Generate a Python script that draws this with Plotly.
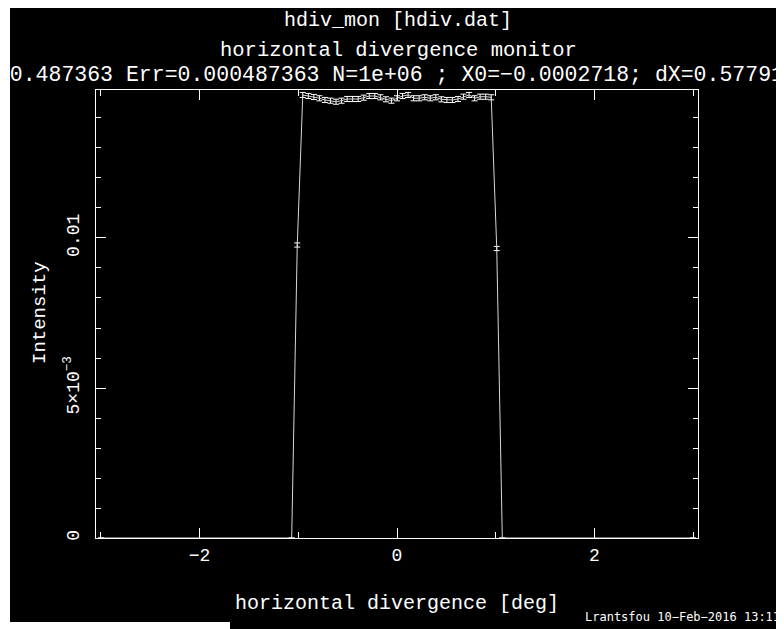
import numpy as np
import plotly.graph_objects as go

# ---------------- data ----------------
edge_left_x = -1.067
edge_right_x = 1.067
n_points = 39  # points between the two zero edges (inclusive)

# plateau intensities (35 bins)
plateau = [0.014767, 0.014733, 0.014700, 0.014657, 0.014600, 0.014577, 0.014543,
           0.014577, 0.014633, 0.014633, 0.014633, 0.014677, 0.014733, 0.014733,
           0.014690, 0.014623, 0.014577, 0.014657, 0.014733, 0.014767, 0.014657,
           0.014657, 0.014690, 0.014657, 0.014690, 0.014623, 0.014600, 0.014600,
           0.014633, 0.014710, 0.014767, 0.014657, 0.014710, 0.014710, 0.014690]
edge_vals = [0.009767, 0.009650]   # left and right shoulder bins
plateau_err = 0.000085
edge_err = 0.000070

x_inner = list(np.round(np.linspace(edge_left_x, edge_right_x, n_points), 4))
y_inner = [0.0, edge_vals[0]] + plateau + [edge_vals[1], 0.0]
e_inner = [0.0, edge_err] + [plateau_err] * len(plateau) + [edge_err, 0.0]

x = [-3.0] + x_inner + [3.0]
y = [0.0] + y_inner + [0.0]
err = [0.0] + e_inner + [0.0]

x_ticks = [-2, 0, 2]
y_tickvals = [0, 0.005, 0.01]
y_ticktext = ["0", "5×10<sup>−3</sup>", "0.01"]

title1 = "hdiv_mon [hdiv.dat]"
title2 = "horizontal divergence monitor"
title3 = "I=0.487363 Err=0.000487363 N=1e+06 ; X0=−0.0002718; dX=0.57791"
xlabel = "horizontal divergence [deg]"
ylabel = "Intensity"
stamp = "Lrantsfou 10−Feb−2016 13:11"

# ---------------- layout geometry ----------------
OFF = 8                      # page body margin
W, H = 784 - OFF, 629 - OFF  # figure size so it fits the window
# plot area in page pixels
PL, PR, PT, PB = 96, 698, 90, 538
L, R, T, B = PL - OFF, PR - OFF, PT - OFF, PB - OFF
pw, ph = R - L, B - T

def px(xp):   # page pixel x -> paper
    return (xp - PL) / pw

def py(yp):   # page pixel y -> paper
    return (PB - yp) / ph

MONO = "Liberation Mono"

fig = go.Figure()
fig.add_trace(go.Scatter(
    x=x, y=y, mode="lines",
    line=dict(color="#d8d8d8", width=1),
    error_y=dict(type="data", array=err, visible=True, color="white",
                 thickness=1, width=3),
    showlegend=False, hoverinfo="skip",
))

axis_common = dict(
    showline=True, linecolor="white", linewidth=1, mirror="ticks",
    ticks="inside", tickcolor="white", ticklen=10, tickwidth=1,
    showgrid=False, zeroline=False,
    tickfont=dict(family=MONO, size=18, color="white"),
)

fig.update_xaxes(range=[-3.05, 3.05], tickmode="array", tickvals=x_ticks,
                 minor=dict(tickmode="linear", tick0=0, dtick=1, ticks="inside",
                            ticklen=6, tickcolor="white"),
                 ticklabelstandoff=0, **axis_common)
fig.update_yaxes(range=[0, 0.014933], tickmode="array", tickvals=y_tickvals,
                 ticktext=y_ticktext, tickangle=-90,
                 minor=dict(tickmode="linear", tick0=0, dtick=0.001, ticks="inside",
                            ticklen=5, tickcolor="white"),
                 ticklabelstandoff=9, **axis_common)

ann = []
ann.append(dict(x=px(398), y=py(20), xref="paper", yref="paper", text=title1,
                showarrow=False, xanchor="center", yanchor="middle",
                font=dict(family=MONO, size=20, color="white")))
ann.append(dict(x=px(398), y=py(50), xref="paper", yref="paper", text=title2,
                showarrow=False, xanchor="center", yanchor="middle",
                font=dict(family=MONO, size=20.5, color="white")))
ann.append(dict(x=px(786), y=py(75), xref="paper", yref="paper", text=title3,
                showarrow=False, xanchor="right", yanchor="middle",
                font=dict(family=MONO, size=21.5, color="white")))
ann.append(dict(x=px(397), y=py(603), xref="paper", yref="paper", text=xlabel,
                showarrow=False, xanchor="center", yanchor="middle",
                font=dict(family=MONO, size=20, color="white")))
ann.append(dict(x=px(40), y=py(313), xref="paper", yref="paper", text=ylabel,
                showarrow=False, xanchor="center", yanchor="middle", textangle=-90,
                font=dict(family=MONO, size=19, color="white")))
ann.append(dict(x=px(782), y=py(617), xref="paper", yref="paper", text=stamp,
                showarrow=False, xanchor="right", yanchor="middle",
                font=dict(family="DejaVu Sans Mono", size=12, color="white")))

shapes = [
    # white corner strip from the scanned page (bottom left)
    dict(type="rect", xref="paper", yref="paper", x0=px(0), x1=px(230),
         y0=py(622), y1=py(640), fillcolor="white", line=dict(width=0), layer="above"),
    dict(type="rect", xref="paper", yref="paper", x0=px(0), x1=px(10),
         y0=py(0), y1=py(640), fillcolor="white", line=dict(width=0), layer="above"),
]

fig.update_layout(
    width=W, height=H,
    margin=dict(l=L, r=W - R, t=T, b=H - B, pad=0),
    paper_bgcolor="black", plot_bgcolor="black",
    annotations=ann, shapes=shapes, showlegend=False,
)

fig.write_html("out.html")
